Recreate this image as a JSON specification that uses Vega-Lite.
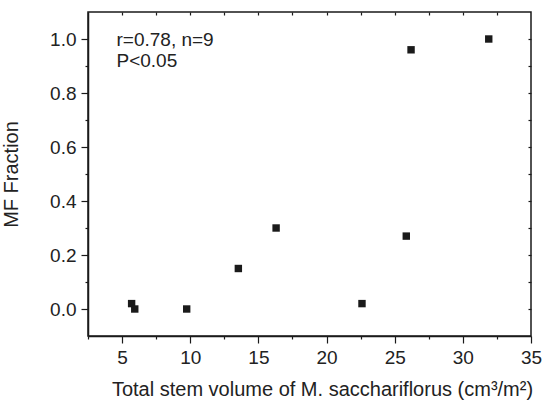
{
  "$schema": "https://vega.github.io/schema/vega-lite/v6.json",
  "width": 443,
  "height": 324,
  "autosize": {"type": "none"},
  "padding": {"left": 88, "top": 12, "right": 11, "bottom": 65},
  "background": "white",
  "config": {
    "view": {"stroke": "#1a1a1a", "strokeWidth": 1.5},
    "font": "Liberation Sans",
    "axis": {
      "domainColor": "#1a1a1a",
      "domainWidth": 1.5,
      "tickColor": "#1a1a1a",
      "tickWidth": 1.2,
      "labelColor": "#222222",
      "titleColor": "#222222",
      "grid": false,
      "labelFont": "Liberation Sans",
      "titleFont": "Liberation Sans",
      "labelFontSize": 19,
      "titleFontSize": 20,
      "titleFontWeight": "normal"
    }
  },
  "datasets": {
    "points": [
      {"volume": 5.7, "fraction": 0.02},
      {"volume": 5.93, "fraction": 0.0},
      {"volume": 9.74, "fraction": 0.0},
      {"volume": 13.53, "fraction": 0.15},
      {"volume": 16.3, "fraction": 0.30},
      {"volume": 22.6, "fraction": 0.02},
      {"volume": 25.85, "fraction": 0.27},
      {"volume": 26.2, "fraction": 0.96},
      {"volume": 31.9, "fraction": 1.0}
    ],
    "notes": [
      {"x": 4.59, "y": 0.975, "label": "r=0.78, n=9"},
      {"x": 4.59, "y": 0.898, "label": "P<0.05"}
    ]
  },
  "layer": [
    {
      "data": {"name": "points"},
      "mark": {"type": "point", "shape": "square", "filled": true, "size": 55, "color": "#1a1a1a", "opacity": 1},
      "encoding": {
        "x": {
          "field": "volume", "type": "quantitative",
          "scale": {"domain": [2.5, 35], "nice": false, "zero": false},
          "axis": {
            "orient": "bottom",
            "title": "Total stem volume of M. sacchariflorus (cm³/m²)",
            "values": [2.5, 5, 7.5, 10, 12.5, 15, 17.5, 20, 22.5, 25, 27.5, 30, 32.5, 35],
            "labelExpr": "datum.value % 5 === 0 ? datum.label : ''",
            "tickSize": {"condition": {"test": "datum.value % 5 === 0", "value": 7}, "value": 3},
            "labelPadding": 5,
            "titlePadding": 12,
            "titleX": 234,
            "labelFlush": false,
            "labelOverlap": false
          }
        },
        "y": {
          "field": "fraction", "type": "quantitative",
          "scale": {"domain": [-0.1, 1.1], "nice": false, "zero": false},
          "axis": {
            "orient": "left",
            "title": "MF Fraction",
            "values": [0, 0.1, 0.2, 0.3, 0.4, 0.5, 0.6, 0.7, 0.8, 0.9, 1.0],
            "format": ".1f",
            "labelExpr": "round(datum.value * 10) % 2 === 0 ? datum.label : ''",
            "tickSize": {"condition": {"test": "round(datum.value * 10) % 2 === 0", "value": 7}, "value": 3},
            "labelPadding": 5,
            "titlePadding": 28,
            "labelFlush": false,
            "labelOverlap": false
          }
        }
      }
    },
    {
      "data": {"name": "notes"},
      "mark": {"type": "text", "align": "left", "baseline": "alphabetic", "fontSize": 19, "color": "#222222", "font": "Liberation Sans"},
      "encoding": {
        "x": {
          "field": "x", "type": "quantitative",
          "scale": {"domain": [2.5, 35], "nice": false, "zero": false},
          "axis": {
            "orient": "top", "title": null, "labels": false, "domain": false,
            "values": [5, 7.5, 10, 12.5, 15, 17.5, 20, 22.5, 25, 27.5, 30, 32.5],
            "tickSize": -3
          }
        },
        "y": {
          "field": "y", "type": "quantitative",
          "scale": {"domain": [-0.1, 1.1], "nice": false, "zero": false},
          "axis": {
            "orient": "right", "title": null, "labels": false, "domain": false,
            "values": [0, 0.1, 0.2, 0.3, 0.4, 0.5, 0.6, 0.7, 0.8, 0.9, 1.0],
            "tickSize": -3
          }
        },
        "text": {"field": "label"}
      }
    }
  ],
  "resolve": {"axis": {"x": "independent", "y": "independent"}}
}
